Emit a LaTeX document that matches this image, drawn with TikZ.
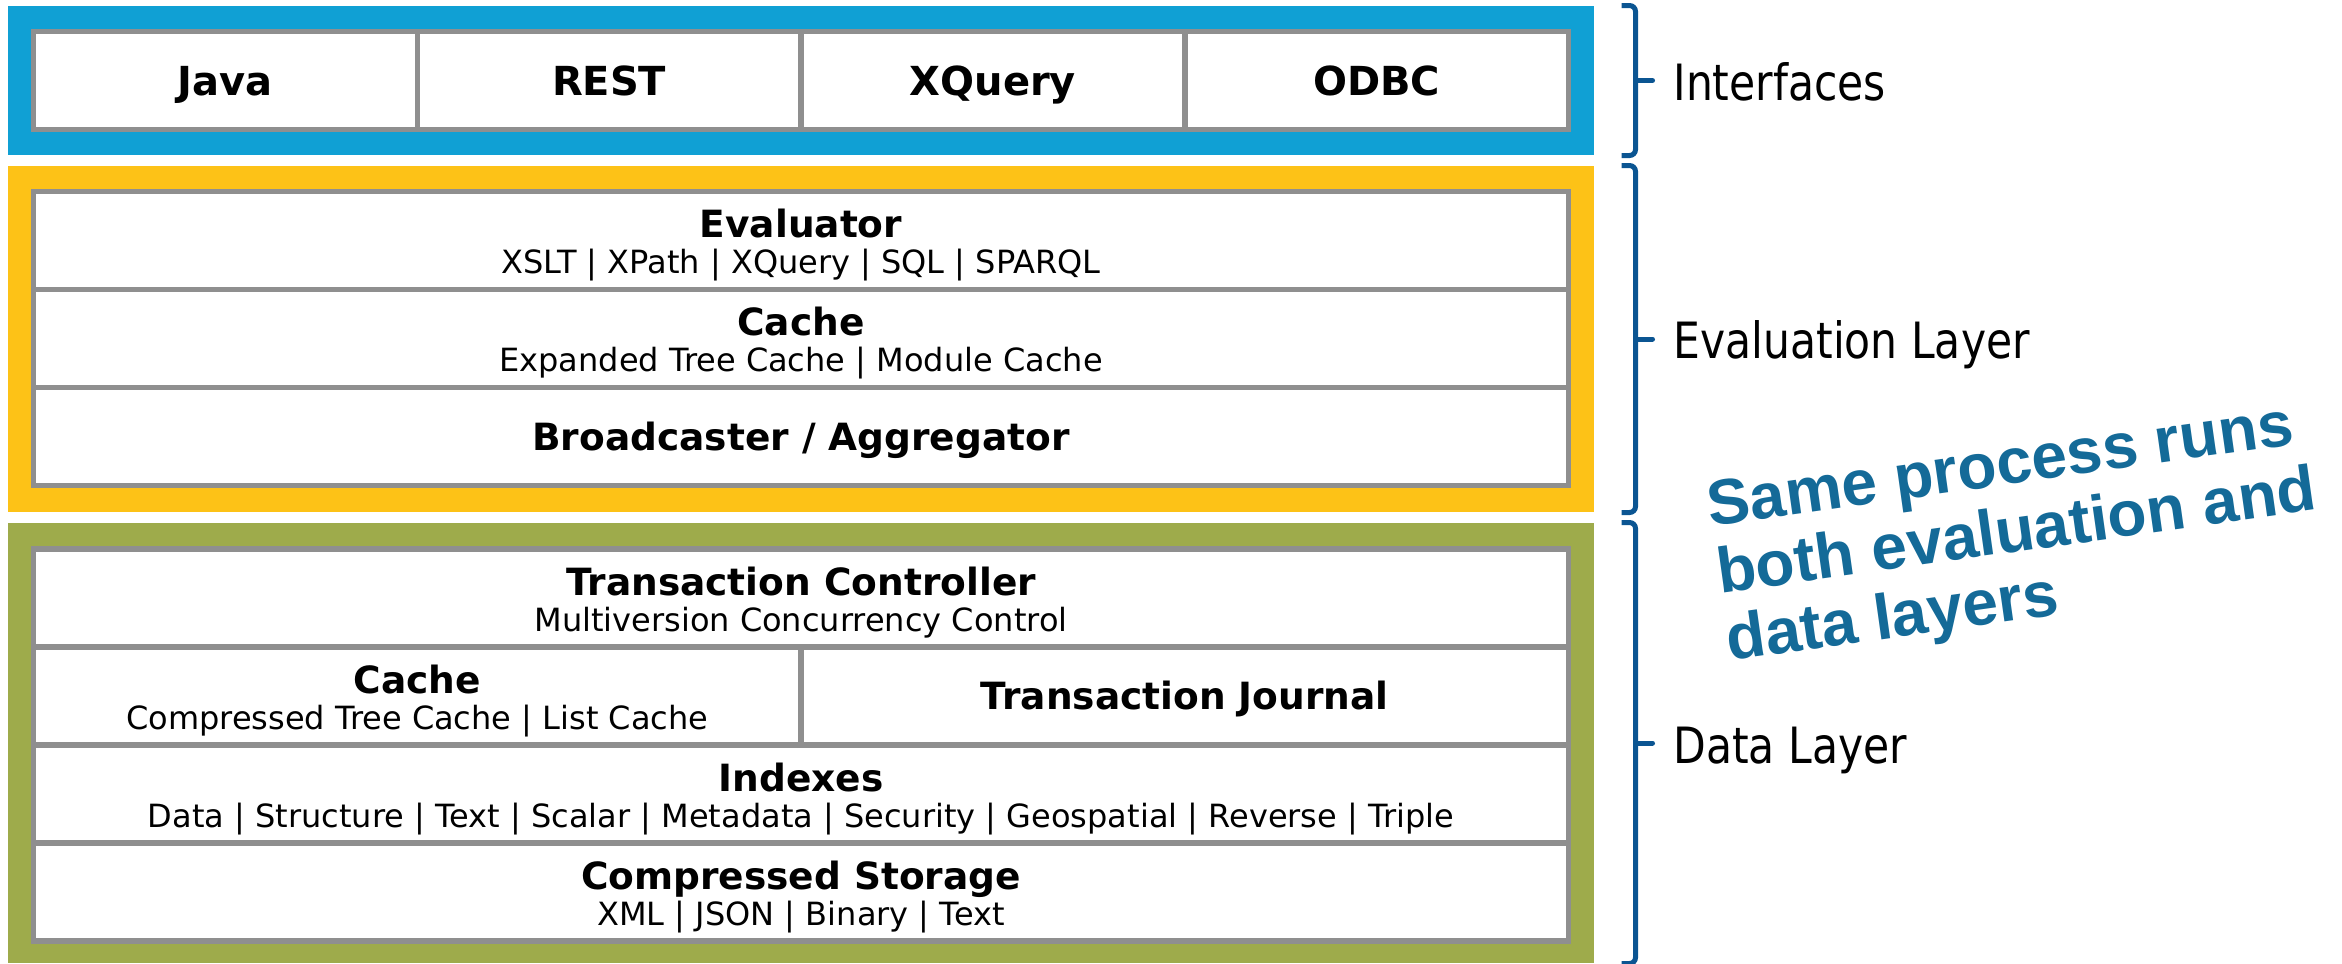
\documentclass[tikz,border=0pt]{standalone}
\usepackage{fontspec}
\setmainfont{DejaVu Sans}
\newfontfamily\layerfont[FakeStretch=0.85]{DejaVu Sans}
\newfontfamily\notefont{Liberation Sans}
\usetikzlibrary{calc}
\definecolor{ifblue}{HTML}{10A0D4}
\definecolor{evalyellow}{HTML}{FDC217}
\definecolor{dataolive}{HTML}{9EAB4B}
\definecolor{cellgrey}{HTML}{8F8F8F}
\definecolor{bracketblue}{HTML}{0B5592}
\definecolor{noteblue}{HTML}{146A98}
\tikzstyle{band} = [rectangle, inner sep=0pt, minimum width=634.4pt]
\tikzstyle{cell} = [rectangle, draw=cellgrey, line width=2.2pt, fill=white, inner sep=0pt, minimum height=39.2pt, align=center]
\tikzstyle{apicell} = [cell, minimum width=153.5pt, font=\bfseries\fontsize{16}{19}\selectfont, text height=11.7pt, text depth=0pt]
\tikzstyle{stackcell} = [cell, minimum width=614pt, font=\fontsize{12.8}{14.4}\selectfont]
\tikzstyle{halfcell} = [stackcell, minimum width=307pt]
\tikzstyle{onetitle} = [font=\bfseries\fontsize{15}{18}\selectfont, text height=10.9pt, text depth=0pt]
\tikzstyle{layerlabel} = [anchor=base west, inner sep=0pt, font=\layerfont\fontsize{20}{24}\selectfont]
\tikzstyle{bracket} = [draw=bracketblue, line width=2pt, rounded corners=2.4pt]
\tikzstyle{note} = [rotate=8, align=left, anchor=base west, inner sep=0pt, text=noteblue, font=\notefont\bfseries\fontsize{25.6}{27.2}\selectfont]
\newcommand{\celltext}[2]{{\bfseries\fontsize{15}{14.4}\selectfont\rule{0pt}{15.4pt}#1}\\#2}

\begin{document}
\begin{tikzpicture}[x=0.4pt, y=-0.4pt, node distance=39.2pt]
  \useasboundingbox (0,0) rectangle (2342,963);
  % coloured layers
  \node (ifband)   [band, fill=ifblue,     minimum height=59.6pt]  at (801,80.5) {};
  \node (evalband) [band, fill=evalyellow, minimum height=138.4pt] at (801,339) {};
  \node (databand) [band, fill=dataolive,  minimum height=176pt]   at (801,743) {};

  % interfaces
  \node (java)   [apicell] at (225.4,80.5) {Java};
  \node (rest)   [apicell, right of=java, node distance=153.5pt] {REST};
  \node (xquery) [apicell, right of=rest, node distance=153.5pt] {XQuery};
  \node (odbc)   [apicell, right of=xquery, node distance=153.5pt] {ODBC};

  % evaluation layer
  \node (evaluator) [stackcell] at (801,240.5) {\celltext{Evaluator}{XSLT | XPath | XQuery | SQL | SPARQL}};
  \node (evalcache) [stackcell, below of=evaluator] {\celltext{Cache}{Expanded Tree Cache | Module Cache}};
  \node (broadcast) [stackcell, onetitle, below of=evalcache] {Broadcaster / Aggregator};

  % data layer
  \node (txctl)     [stackcell] at (801,598) {\celltext{Transaction Controller}{Multiversion Concurrency Control}};
  \node (datacache) [halfcell, below of=txctl, xshift=-153.5pt] {\celltext{Cache}{Compressed Tree Cache | List Cache}};
  \node (journal)   [halfcell, onetitle, right of=datacache, node distance=307pt] {Transaction Journal};
  \node (indexes)   [stackcell, below of=txctl, yshift=-39.2pt] {\celltext{Indexes}{Data | Structure | Text | Scalar | Metadata | Security | Geospatial | Reverse | Triple}};
  \node (storage)   [stackcell, below of=indexes] {\celltext{Compressed Storage}{XML | JSON | Binary | Text}};

  % brackets and layer names
  \draw[bracket] ($(ifband.north east)+(27,0)$) -- ($(ifband.north east)+(41,0)$) -- ($(ifband.south east)+(41,0)$) -- ($(ifband.south east)+(27,0)$);
  \draw[bracket, line cap=round] ($(ifband.east)+(41,0)$) -- ($(ifband.east)+(58,0)$);
  \draw[bracket] ($(evalband.north east)+(27,0)$) -- ($(evalband.north east)+(41,0)$) -- ($(evalband.south east)+(41,0)$) -- ($(evalband.south east)+(27,0)$);
  \draw[bracket, line cap=round] ($(evalband.east)+(41,0)$) -- ($(evalband.east)+(58,0)$);
  \draw[bracket] ($(databand.north east)+(27,0)$) -- ($(databand.north east)+(41,0)$) -- ($(databand.south east)+(41,0)$) -- ($(databand.south east)+(27,0)$);
  \draw[bracket, line cap=round] ($(databand.east)+(41,0)$) -- ($(databand.east)+(58,0)$);

  \node (iflabel)   [layerlabel] at (1673,100) {Interfaces};
  \node (evallabel) [layerlabel] at (1673,358) {Evaluation Layer};
  \node (datalabel) [layerlabel] at (1673,763) {Data Layer};

  % base of the last line
  \node (samenote) [note] at (1729,661) {Same process runs\\both evaluation and\\data layers};
\end{tikzpicture}
\end{document}
